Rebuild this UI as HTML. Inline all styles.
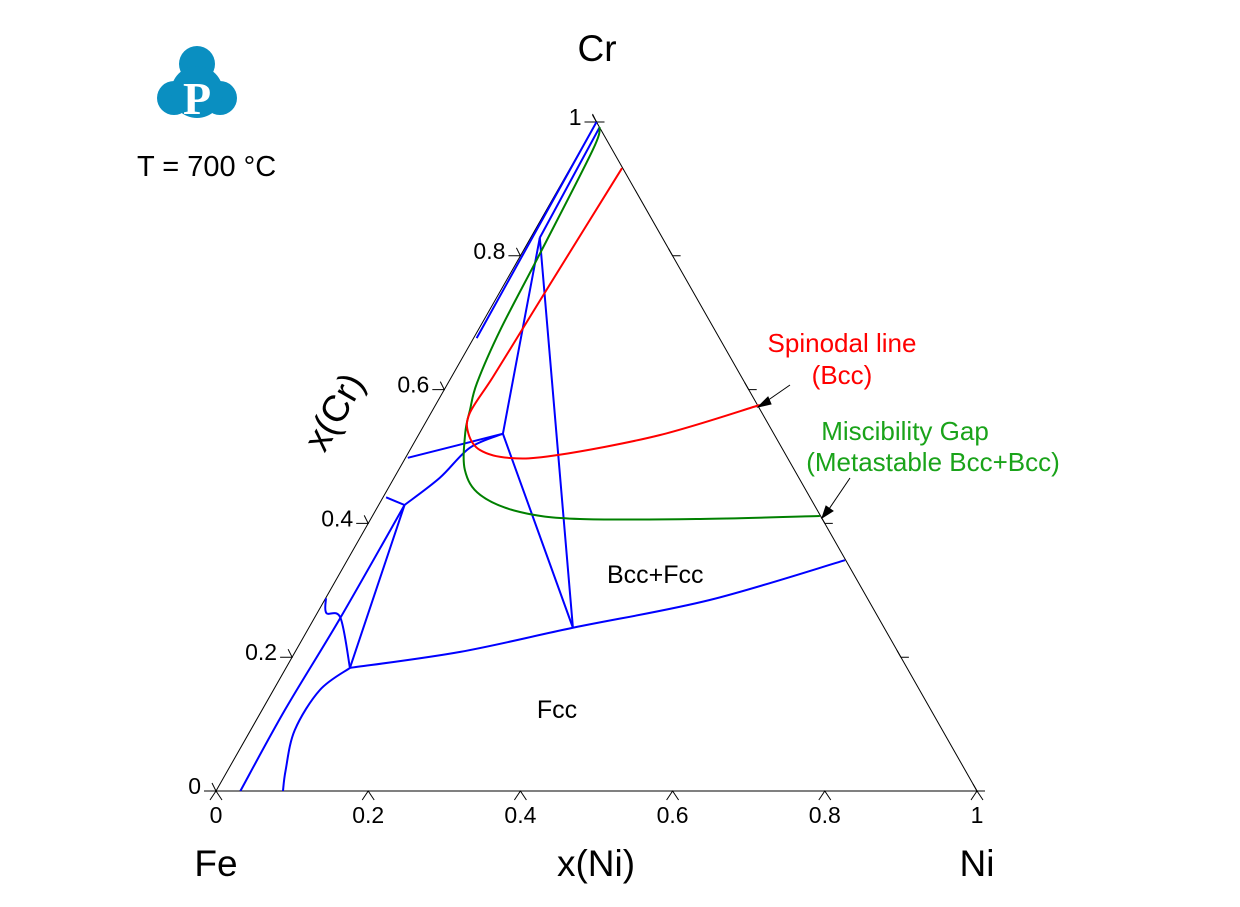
<!DOCTYPE html>
<html><head><meta charset="utf-8"><style>
html,body{margin:0;padding:0;background:#fff;}
svg{display:block;font-family:"Liberation Sans",Arial,sans-serif;}
</style></head><body>
<svg id="chart" width="1240" height="907" viewBox="0 0 1240 907">
<g fill="#0a8fc1">
<circle cx="197" cy="64" r="18"/><circle cx="174" cy="98" r="17"/><circle cx="220" cy="98" r="17"/>
<circle cx="197" cy="92" r="26"/>
<text x="197" y="114" font-family="Liberation Serif,serif" font-weight="bold" font-size="46" fill="#fff" text-anchor="middle">P</text>
</g>
<text x="137" y="176" font-size="29">T = 700 °C</text>
<text x="597" y="61" font-size="37" text-anchor="middle">Cr</text>
<text x="216" y="876" font-size="37" text-anchor="middle">Fe</text>
<text x="977" y="876" font-size="37" text-anchor="middle">Ni</text>
<text x="596" y="876" font-size="37" text-anchor="middle">x(Ni)</text>
<text transform="translate(345,418) rotate(-60)" font-size="37" text-anchor="middle">x(Cr)</text>
<text x="607" y="583" font-size="25">Bcc+Fcc</text>
<text x="557" y="718" font-size="25" text-anchor="middle">Fcc</text>
<text x="842" y="352" font-size="26" fill="#f00" text-anchor="middle">Spinodal line</text>
<text x="842" y="384" font-size="26" fill="#f00" text-anchor="middle">(Bcc)</text>
<text x="905" y="440" font-size="26" fill="#1aa31a" text-anchor="middle">Miscibility Gap</text>
<text x="933" y="471" font-size="26" fill="#1aa31a" text-anchor="middle">(Metastable Bcc+Bcc)</text>
<g id="axes"></g>
<g id="series"></g>
<g stroke="#000" fill="#000">
<line x1="790" y1="385" x2="764" y2="403"/><polygon points="758,407 768,397 771,404"/>
<line x1="850" y1="478" x2="827" y2="512"/><polygon points="822,518 826,506 833,511"/>
</g>
</svg>
<script>
const ticks=[0,0.2,0.4,0.6,0.8,1];
const tickLabels=["0","0.2","0.4","0.6","0.8","1"];
// series as [xNi, xCr] pairs
const blueEdge=[[0,1],[0.004,0.677]];
const blueTop=[[0.008,0.9925],[0.012,0.827]];
const tieA=[[0.012,0.827],[0.110,0.534]];
const tieB=[[0.012,0.827],[0.347,0.244]];
const tieC=[[0.110,0.534],[0.347,0.244]];
const blueD=[[0.003,0.498],[0.110,0.534]];
const blueE=[[0.004,0.439],[0.034,0.4275]];
const blueF=[[0.034,0.4275],[0.060,0.468],[0.077,0.513],[0.110,0.534]];
const blueG=[[0.034,0.4275],[0.084,0.184]];
const blueH=[[0.034,0.4275],[0.034,0.259],[0.030,0.121],[0.032,0]];
const blueI=[[0.0005,0.288],[0.012,0.266],[0.034,0.259],[0.084,0.184]];
const blueJ=[[0.084,0.184],[0.061,0.151],[0.058,0.091],[0.076,0.031],[0.088,0]];
const blueK=[[0.084,0.184],[0.217,0.208],[0.347,0.244],[0.506,0.2855],[0.654,0.345]];
const red=[[0.068,0.931],[0.060,0.7534],[0.058,0.704],[0.0545,0.619],[0.051,0.565],[0.064,0.535],[0.092,0.5097],[0.137,0.4978],[0.197,0.502],[0.317,0.532],[0.426,0.577]];
const green=[[0.008,0.9925],[0.016,0.958],[0.024,0.804],[0.029,0.689],[0.038,0.610],[0.049,0.5695],[0.060,0.535],[0.087,0.48],[0.126,0.4425],[0.191,0.417],[0.275,0.4066],[0.433,0.4066],[0.588,0.411]];
const X0=216,Y0=791,W=761,H=669;
function px(n,c){return [X0+W*(n+c/2),Y0-H*c];}
const NS="http://www.w3.org/2000/svg";
function mk(t,a,p){const e=document.createElementNS(NS,t);for(const k in a)e.setAttribute(k,a[k]);p.appendChild(e);return e;}
const ax=document.getElementById('axes'),sg=document.getElementById('series');
const A=px(0,0),B=px(1,0),C=px(0,1);
const tri=mk('polygon',{points:[A,B,C].map(p=>p.join(',')).join(' '),fill:'none',stroke:'#000','stroke-width':1},ax);


ticks.forEach((t,i)=>{
  let [x,y]=px(t,0);
  const l1=mk('path',{d:`M${x-6},${y+9}L${x},${y}L${x+6},${y+9}`,stroke:'#000',fill:'none'},ax);
  
  
  const tx=mk('text',{x:x,y:y+32,'font-size':23,'text-anchor':'middle'},ax);tx.textContent=tickLabels[i];
  
  
  [x,y]=px(0,t);
  const l2=mk('path',{d:`M${x-12},${y}L${x},${y}L${x-4},${y-8}`,stroke:'#000',fill:'none'},ax);
  
  
  const ty=mk('text',{x:x-15,y:y+3,'font-size':23,'text-anchor':'end'},ax);ty.textContent=tickLabels[i];
  
  
  [x,y]=px(1-t,t);
  const l3=mk('path',{d:`M${x-4},${y-7}L${x},${y}L${x+8},${y}`,stroke:'#000',fill:'none'},ax);
  
  
});
function curve(pts,color,name){
  const P=pts.map(p=>px(p[0],p[1]));
  let d=`M${P[0][0]},${P[0][1]}`;
  for(let i=0;i<P.length-1;i++){
    const p0=P[Math.max(i-1,0)],p1=P[i],p2=P[i+1],p3=P[Math.min(i+2,P.length-1)];
    const c1=[p1[0]+(p2[0]-p0[0])/6,p1[1]+(p2[1]-p0[1])/6],c2=[p2[0]-(p3[0]-p1[0])/6,p2[1]-(p3[1]-p1[1])/6];
    d+=`C${c1[0]},${c1[1]} ${c2[0]},${c2[1]} ${p2[0]},${p2[1]}`;
  }
  const e=mk('path',{d:d,fill:'none',stroke:color,'stroke-width':2},sg);
  
  
}
[blueEdge,blueTop,tieA,tieB,tieC,blueD,blueE,blueF,blueG,blueH,blueI,blueJ,blueK].forEach(s=>curve(s,'#0000ff','phase-boundary'));
curve(green,'#008000','miscibility-gap-line');
curve(red,'#ff0000','spinodal-line');
</script>
</body></html>
